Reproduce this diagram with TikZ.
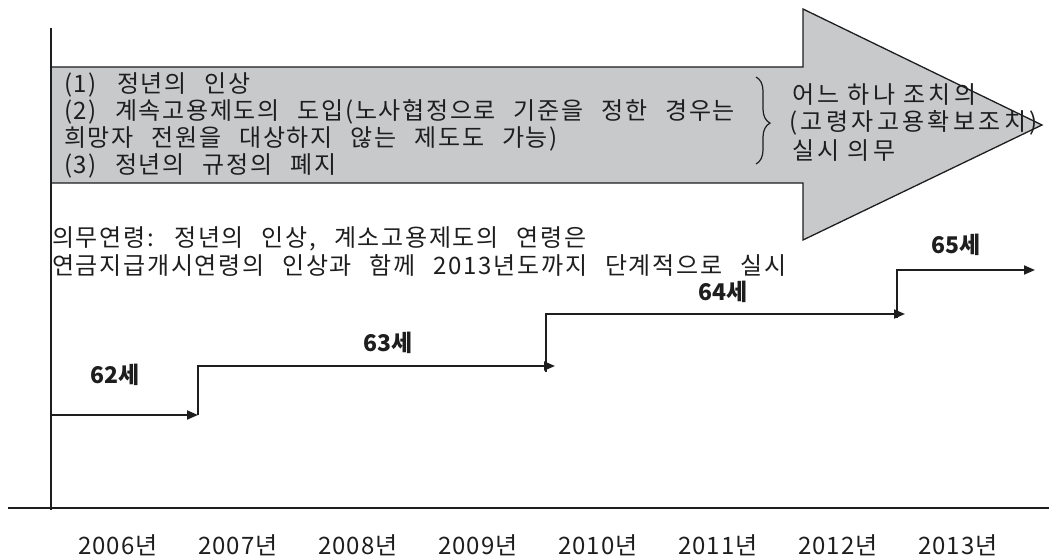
\documentclass[tikz,border=0pt]{standalone}
\usepackage{fontspec}
\setmainfont{Noto Sans CJK KR}
\newfontfamily\kr[LetterSpace=7]{Noto Sans CJK KR}
\newfontfamily\krwide[LetterSpace=14]{Noto Sans CJK KR}
\newfontfamily\krnum[LetterSpace=4]{Noto Sans CJK KR}
\usetikzlibrary{arrows.meta,decorations.pathreplacing}
\definecolor{arrowgray}{RGB}{200,201,203}
\definecolor{ink}{RGB}{30,30,30}
\newcommand\krbody{\kr\fontsize{24}{28}\selectfont\spaceskip 18pt\relax}
\newcommand\krright{\krwide\fontsize{24}{28}\selectfont\spaceskip 8pt\relax}
\begin{document}
\begin{tikzpicture}[x=1pt,y=-1pt,
  txt/.style={anchor=west,inner sep=0pt,text=ink,font=\krbody},
  rtxt/.style={anchor=west,inner sep=0pt,text=ink,font=\krright},
  age/.style={inner sep=0pt,text=ink,font=\bfseries\fontsize{23}{27}\selectfont},
  yr/.style={inner sep=0pt,text=ink,font=\krnum\fontsize{24}{28}\selectfont},
  axisline/.style={line width=1.6pt,draw=ink},
  stepline/.style={line width=1.8pt,draw=ink,-{Triangle[length=11pt,width=9pt]}},
  bigarrow/.style={fill=arrowgray,draw=ink,line width=1.3pt,line join=miter},
  bracestyle/.style={draw=ink,line width=1.2pt,decorate,decoration={brace,amplitude=14pt,aspect=0.53}},
]
\useasboundingbox (0,0) rectangle (1049,559);
% big gray arrow
\draw[bigarrow] (51,67) -- (803,67) -- (803,9) -- (1042,125) -- (803,240) -- (803,183) -- (51,183) -- cycle;
% axes
\coordinate (ytop) at (51,28);
\coordinate (ybot) at (51,510);
\coordinate (xl) at (8,508);
\coordinate (xr) at (1049,508);
\draw[axisline] (ytop) -- (ybot);
\draw[axisline] (xl) -- (xr);
% text inside arrow
\node[txt] (l1) at (64,85) {(1)\hspace{20pt}정년의 인상};
\node[txt] (l2) at (64,112) {(2) 계속고용제도의 도입(노사협정으로 기준을 정한 경우는};
\node[txt] (l3) at (64,139) {희망자 전원을 대상하지 않는 제도도 가능)};
\node[txt] (l4) at (64,166) {(3) 정년의 규정의 폐지};
% brace
\coordinate (bt) at (756,77);
\coordinate (bb) at (756,164);
\draw[bracestyle] (bt) -- (bb);
\node[rtxt] (r1) at (792,95) {어느 하나 조치의};
\node[rtxt] (r2) at (789,123) {(고령자고용확보조치)};
\node[rtxt] (r3) at (792,151) {실시 의무};
% lower text
\node[txt] (m1) at (52,239) {의무연령: 정년의 인상, 계소고용제도의 연령은};
\node[txt] (m2) at (52,265) {연금지급개시연령의 인상과 함께 2013년도까지 단계적으로 실시};
% steps
\coordinate (s0) at (51,415);
\coordinate (s1) at (198,415);
\coordinate (s1u) at (198,366);
\coordinate (s2) at (555,366);
\coordinate (s2d) at (546,372);
\coordinate (s2u) at (546,314);
\coordinate (s3) at (905,314);
\coordinate (s3d) at (897,318);
\coordinate (s3u) at (897,270);
\coordinate (s4) at (1035,270);
\draw[stepline] (s0) -- (s1);
\draw[stepline] (s1) -- (s1u) -- (s2);
\draw[stepline] (s2d) -- (s2u) -- (s3);
\draw[stepline] (s3d) -- (s3u) -- (s4);
\node[age] (a62) at (115,375) {62세};
\node[age] (a63) at (388,343) {63세};
\node[age] (a64) at (723,292) {64세};
\node[age] (a65) at (956,245) {65세};
% years
\foreach \y [count=\i from 0] in {2006,2007,2008,2009,2010,2011,2012,2013} {
  \node[yr] (y\y) at (118+120*\i,545) {\y{}년};
}
\end{tikzpicture}
\end{document}
